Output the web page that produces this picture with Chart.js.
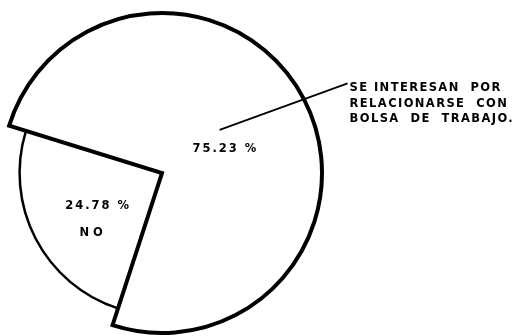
<!DOCTYPE html>
<html>
<head>
<meta charset="utf-8">
<script src="https://cdn.jsdelivr.net/npm/chart.js@4.4.0/dist/chart.umd.min.js"></script>
<style>
  html, body { margin: 0; padding: 0; background: #fff; }
  #wrap { width: 516px; height: 336px; }
</style>
</head>
<body>
<div id="wrap"><canvas id="pie"></canvas></div>
<script>
// ── Data ─────────────────────────────────────────────────────────
const labels = ['NO', 'SE INTERESAN POR RELACIONARSE CON BOLSA DE TRABAJO.'];
const values = [24.78, 75.23];
const valueText = ['24.78 %', '75.23 %'];
const calloutLines = ['SE INTERESAN  POR', 'RELACIONARSE  CON', 'BOLSA  DE  TRABAJO.'];

const INK = '#000';
const LETTERING = 'bold 11.5px "DejaVu Sans"';

// the "NO" slice is drawn a little smaller than the full circle
const shrinkSmall = {
  id: 'shrinkSmall',
  afterDatasetsUpdate(chart) {
    const arc = chart.getDatasetMeta(0).data[0];
    arc.outerRadius = arc.outerRadius * 0.89;
  }
};

// percentages inside the slices + callout on the right
const pieText = {
  id: 'pieText',
  afterDraw(chart) {
    const ctx = chart.ctx;
    const arcs = chart.getDatasetMeta(0).data;
    ctx.save();
    ctx.fillStyle = INK;
    ctx.strokeStyle = INK;
    ctx.font = LETTERING;
    ctx.letterSpacing = '2px';
    ctx.textAlign = 'center';
    ctx.textBaseline = 'middle';

    const small = arcs[0], big = arcs[1];
    const midS = (small.startAngle + small.endAngle) / 2;
    const sx = small.x + Math.cos(midS) * 72, sy = small.y + Math.sin(midS) * 72;
    ctx.fillText(valueText[0], sx, sy);
    ctx.letterSpacing = '4px';
    ctx.fillText(labels[0], sx - 5, sy + 27);

    ctx.letterSpacing = '2px';
    const midB = (big.startAngle + big.endAngle) / 2 + 0.11;
    const bx = big.x + Math.cos(midB) * 68, by = big.y + Math.sin(midB) * 68;
    ctx.fillText(valueText[1], bx, by);

    // leader line out to the callout text
    const r = big.outerRadius;
    const x0 = big.x + r * 0.36, y0 = big.y - r * 0.27;
    const x1 = big.x + r * 1.16, y1 = big.y - r * 0.56;
    ctx.lineWidth = 1.8;
    ctx.beginPath();
    ctx.moveTo(x0, y0);
    ctx.lineTo(x1, y1);
    ctx.stroke();

    ctx.textAlign = 'left';
    ctx.letterSpacing = '1.4px';
    calloutLines.forEach((t, i) => ctx.fillText(t, x1 + 2, y1 + 5 + i * 15.5));
    ctx.restore();
  }
};

new Chart(document.getElementById('pie'), {
  type: 'pie',
  data: {
    labels,
    datasets: [{
      data: values,
      backgroundColor: '#fff',
      borderColor: INK,
      borderWidth: [2.5, 4],
      borderJoinStyle: 'miter'
    }]
  },
  options: {
    responsive: true,
    maintainAspectRatio: false,
    animation: false,
    rotation: 198,
    radius: 160,
    layout: { padding: { left: 2, right: 194, top: 13, bottom: 3 } },
    plugins: { legend: { display: false }, tooltip: { enabled: false } }
  },
  plugins: [shrinkSmall, pieText]
});
</script>
</body>
</html>
